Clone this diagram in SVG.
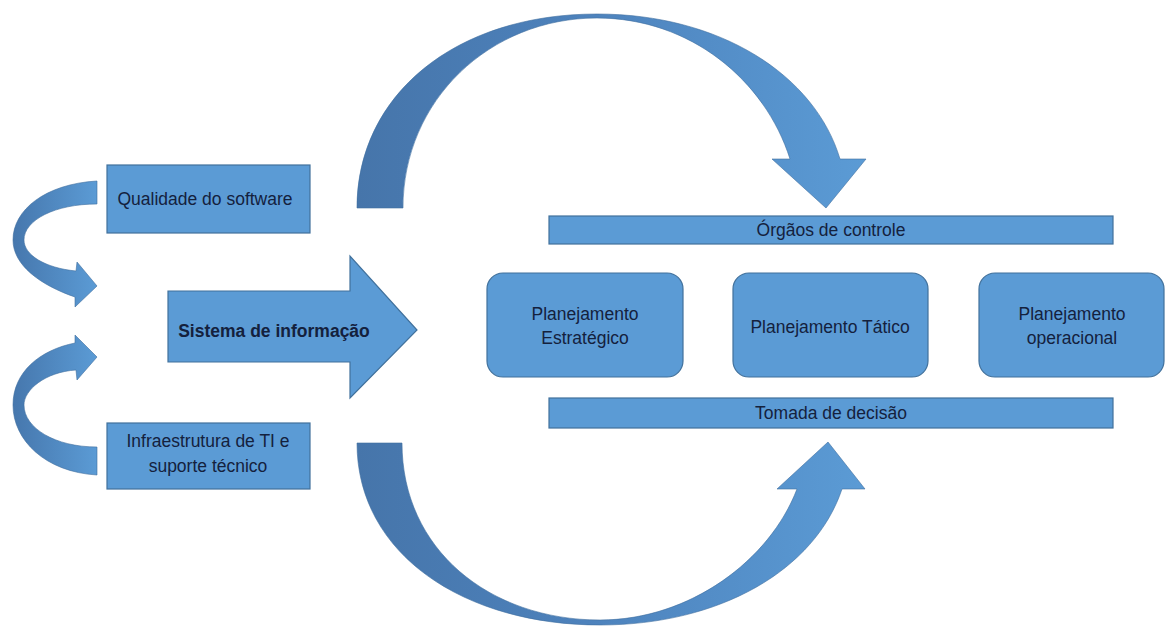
<svg xmlns="http://www.w3.org/2000/svg" width="1166" height="626" viewBox="0 0 1166 626">
<style>
.box{fill:#5b9bd5;stroke:#41719c;stroke-width:1.2}
.arc{stroke:#3f6f9f;stroke-width:0.6}
.t{font-family:"Liberation Sans",Arial,sans-serif;font-size:17.5px;fill:#14213d;text-anchor:middle}
.b{font-weight:bold}
</style>
<defs>
<linearGradient id="gBig" gradientUnits="userSpaceOnUse" x1="357" y1="0" x2="866" y2="0">
<stop offset="0" stop-color="#4675aa"/>
<stop offset="0.45" stop-color="#4d82bc"/>
<stop offset="1" stop-color="#5b9bd5"/>
</linearGradient>
<linearGradient id="gSmall" x1="0" y1="0" x2="1" y2="0">
<stop offset="0" stop-color="#4677ad"/>
<stop offset="1" stop-color="#5b9bd5"/>
</linearGradient>
</defs>
<rect width="1166" height="626" fill="#ffffff"/>
<g id="connectors">
<path id="arc-top" class="arc" fill="url(#gBig)" d="M357,208 C357,95 455,14 597,14 C720,14 815,75 840,159 L866,159 L826,208 L772,159 L790,159 C765,80 690,18 597,18 C490,18 403,100 403,208 Z"/>
<path id="arc-bottom" class="arc" fill="url(#gBig)" d="M357,443 C357,555 465,625 600,625 C720,625 815,570 842,489 L865,489 L828,442 L777,489 L797,489 C770,560 690,620 600,620 C490,620 402,550 402,443 Z"/>
<path id="arc-left-top" class="arc" fill="url(#gSmall)" d="M97,181 C45,184 13,210 13,240 C13,265 40,285 75,297 L75,307 L97,286 L77,262 L76,271 C45,268 24,255 24,240 C24,220 55,204 97,204 Z"/>
<path id="arc-left-bottom" class="arc" fill="url(#gSmall)" d="M97,475 C45,472 13,440 13,405 C13,372 40,350 75,343 L75,335 L97,357 L77,380 L76,370 C45,372 24,390 24,405 C24,428 55,447 97,447 Z"/>
</g>
<g id="qualidade">
<rect class="box" x="107" y="165" width="203" height="68"/>
<text class="t" x="205" y="205">Qualidade do software</text>
</g>
<g id="infraestrutura">
<rect class="box" x="107" y="423" width="203" height="66"/>
<text class="t" x="208" y="447">Infraestrutura de TI e</text>
<text class="t" x="208" y="472">suporte técnico</text>
</g>
<g id="sistema">
<path class="box" d="M168,291 L350,291 L350,256 L417,330 L350,398 L350,362 L168,362 Z"/>
<text class="t b" x="274" y="337">Sistema de informação</text>
</g>
<g id="orgaos">
<rect class="box" x="549" y="216" width="564" height="28"/>
<text class="t" x="831" y="236">Órgãos de controle</text>
</g>
<g id="estrategico">
<rect class="box" x="487" y="273" width="196" height="104" rx="16"/>
<text class="t" x="585" y="320">Planejamento</text>
<text class="t" x="585" y="344">Estratégico</text>
</g>
<g id="tatico">
<rect class="box" x="733" y="273" width="195" height="104" rx="16"/>
<text class="t" x="830" y="333">Planejamento Tático</text>
</g>
<g id="operacional">
<rect class="box" x="979" y="273" width="185" height="104" rx="16"/>
<text class="t" x="1072" y="320">Planejamento</text>
<text class="t" x="1072" y="344">operacional</text>
</g>
<g id="tomada">
<rect class="box" x="549" y="398" width="564" height="30"/>
<text class="t" x="831" y="419">Tomada de decisão</text>
</g>
</svg>
